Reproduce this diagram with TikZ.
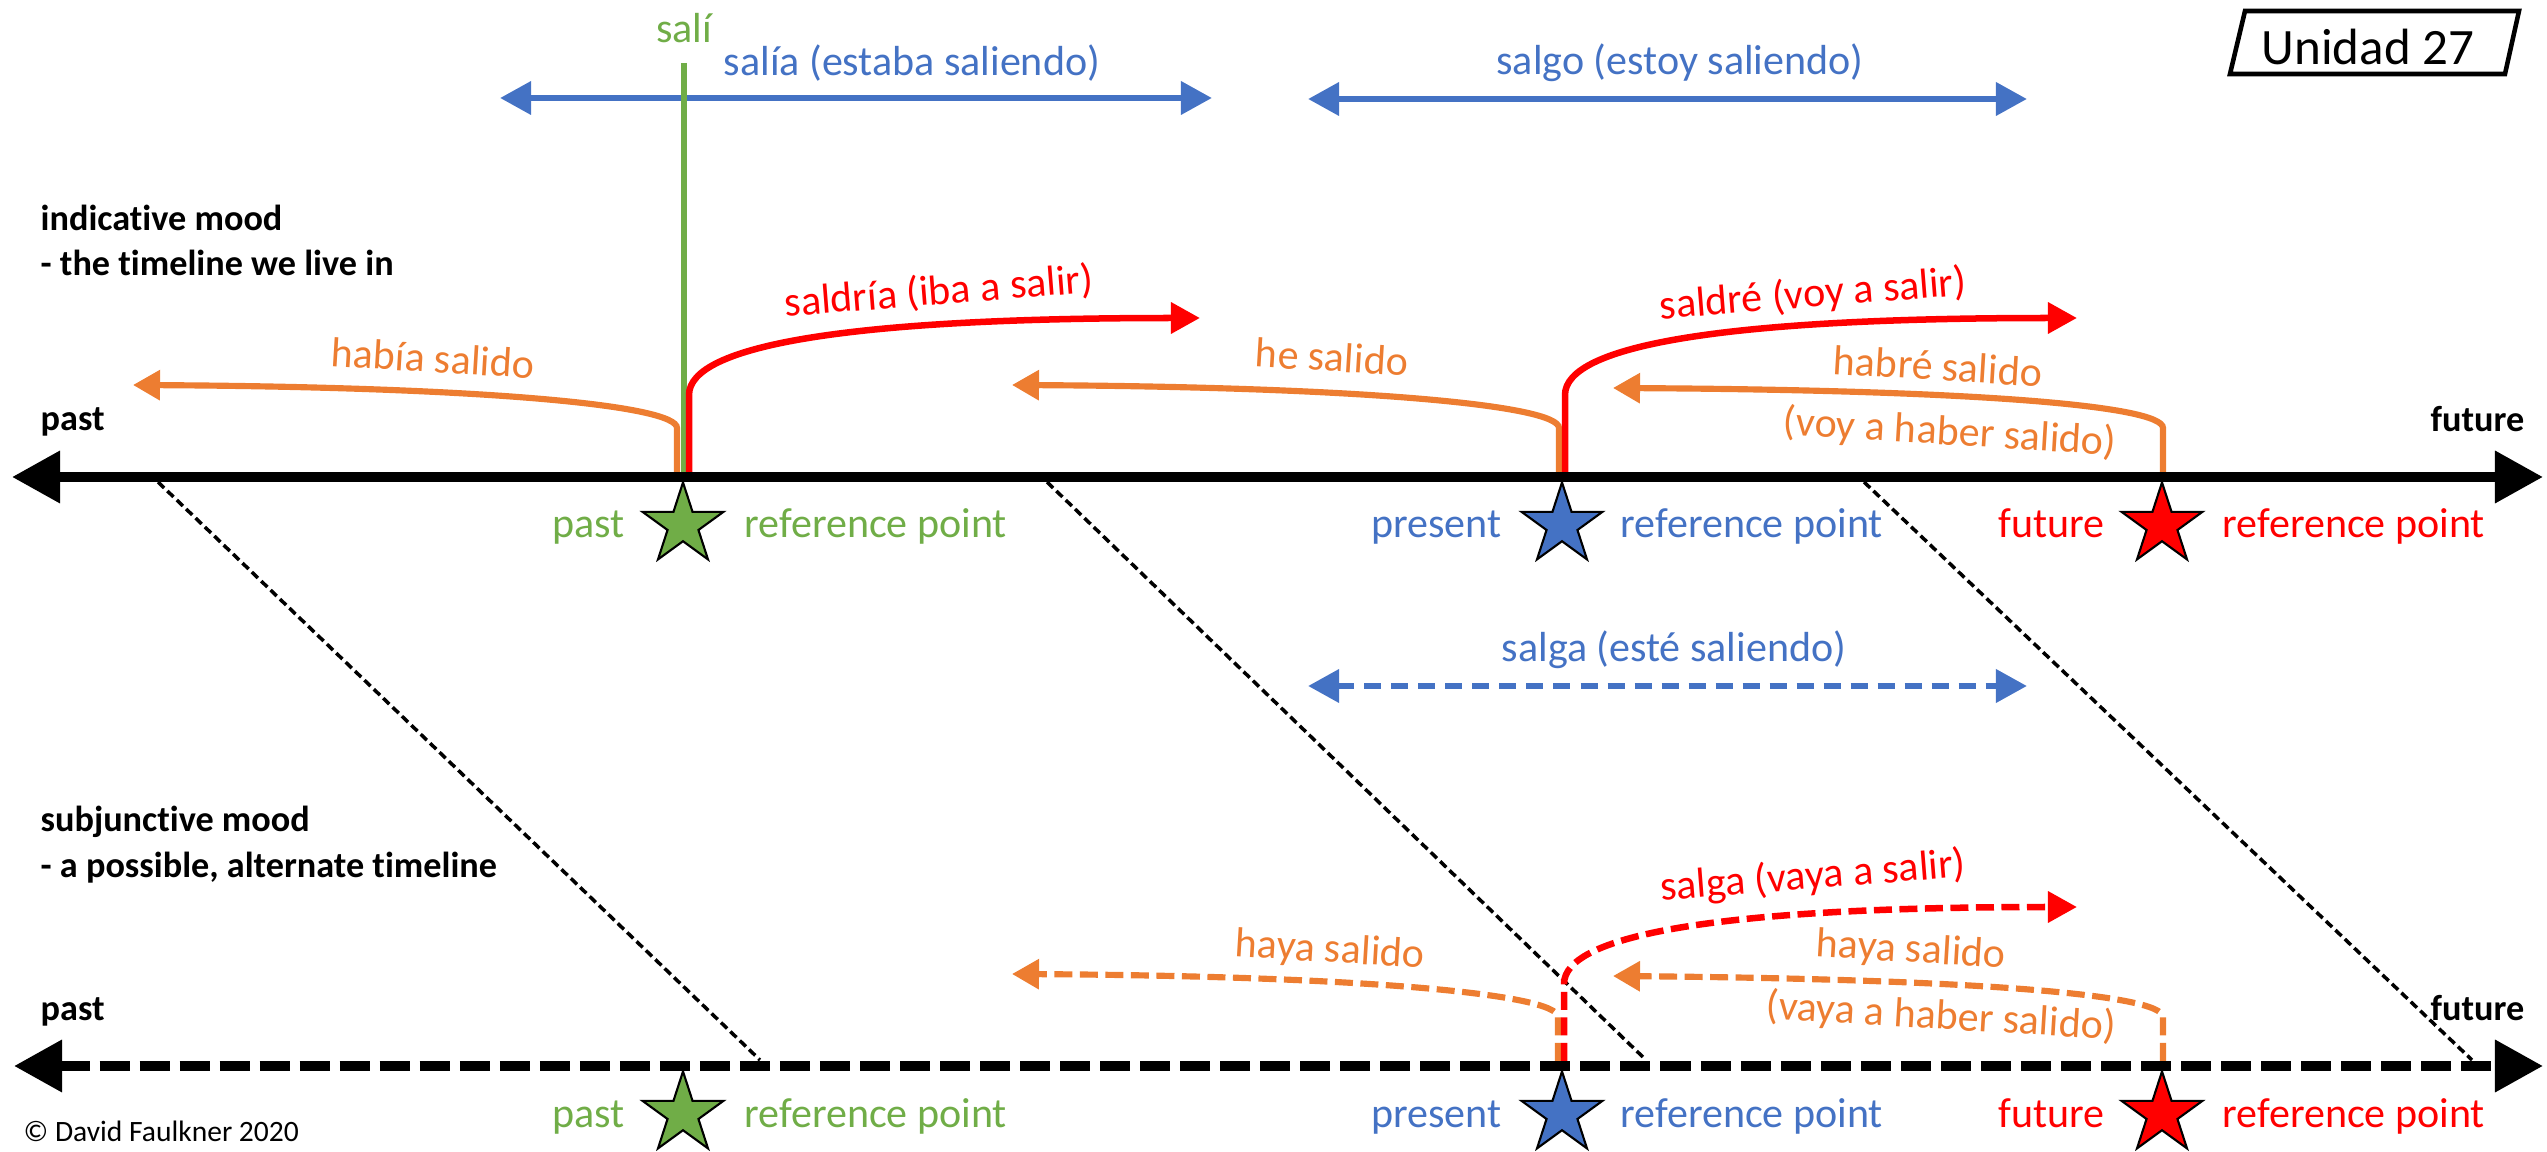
\documentclass[tikz,border=0pt]{standalone}
\usepackage{fontspec}
\setmainfont{Carlito}[Ligatures=NoCommon]
\usetikzlibrary{arrows.meta,shapes.geometric}
\definecolor{cblue}{HTML}{4472C4}
\definecolor{corange}{HTML}{ED7D31}
\definecolor{cgreen}{HTML}{70AD47}
\definecolor{cred}{HTML}{FF0000}
\begin{document}
\begin{tikzpicture}[x=0.01cm,y=-0.01cm,
  lbl/.style={inner sep=0pt, font=\fontsize{11.95}{14}\selectfont},
  blbl/.style={inner sep=0pt, font=\fontsize{10.3}{12.5}\selectfont\bfseries, anchor=base west},
  timeline/.style={line width=2.85pt, {Triangle[length=0.48cm,width=0.5cm]}-{Triangle[length=0.48cm,width=0.5cm]}},
  dashtl/.style={timeline, dash pattern=on 0.3cm off 0.1cm},
  diag/.style={line width=1pt, dash pattern=on 0.085cm off 0.045cm},
  spanarrow/.style={cblue, line width=1.9pt, {Triangle[length=0.31cm,width=0.32cm]}-{Triangle[length=0.31cm,width=0.32cm]}},
  pastarrow/.style={corange, line width=1.75pt, -{Triangle[length=0.27cm,width=0.29cm]}},
  futarrow/.style={cred, line width=1.85pt, -{Triangle[length=0.29cm,width=0.3cm]}},
  subj/.style={dash pattern=on 0.18cm off 0.075cm},
  refstar/.style={star, star points=5, star point ratio=2.618, minimum size=0.85cm, inner sep=0pt, draw=black, line width=0.6pt},
]
\useasboundingbox (0,0) rectangle (2547,1152);

% ---------- coordinates of the timelines ----------
\coordinate (tL) at (12,477);   \coordinate (tR) at (2543,477);
\coordinate (bL) at (14,1066);  \coordinate (bR) at (2543,1066);

% ---------- diagonal links ----------
\coordinate (d1a) at (158,482);  \coordinate (d1b) at (760,1060);
\coordinate (d2a) at (1047,482); \coordinate (d2b) at (1646,1060);
\coordinate (d3a) at (1864,482); \coordinate (d3b) at (2472,1060);
\draw[diag] (d1a) -- (d1b);
\draw[diag] (d2a) -- (d2b);
\draw[diag] (d3a) -- (d3b);

% ---------- spans ----------
\coordinate (s1a) at (500,98);   \coordinate (s1b) at (1212,98);
\coordinate (s2a) at (1308,99);  \coordinate (s2b) at (2027,99);
\coordinate (s3a) at (1308,686); \coordinate (s3b) at (2027,686);
\draw[spanarrow] (s1a) -- (s1b);
\draw[spanarrow] (s2a) -- (s2b);
\draw[spanarrow, dash pattern=on 0.17cm off 0.1cm] (s3a) -- (s3b);

% ---------- sali ----------
\coordinate (g1) at (684,63); \coordinate (g2) at (684,477);
\draw[cgreen, line width=1.5pt] (g1) -- (g2);

% ---------- indicative curves ----------
\draw[pastarrow] (677,477) -- (677,428) .. controls (677,405) and (480,387) .. (133,385);
\draw[futarrow] (689,477) -- (689,395) .. controls (689,345) and (850,318) .. (1200,318);
\draw[pastarrow] (1559,477) -- (1559,428) .. controls (1559,405) and (1360,387) .. (1012,385);
\draw[futarrow] (1565,477) -- (1565,395) .. controls (1565,345) and (1726,318) .. (2077,318);
\draw[pastarrow] (2163,477) -- (2163,428) .. controls (2163,405) and (1964,390) .. (1613,388);

% ---------- subjunctive curves ----------
\draw[pastarrow, subj] (1558,1061) -- (1558,1017) .. controls (1558,994) and (1360,976) .. (1012,974);
\draw[futarrow, subj] (1564,1061) -- (1564,984) .. controls (1564,934) and (1725,907) .. (2077,907);
\draw[pastarrow, subj] (2163,1061) -- (2163,1017) .. controls (2163,994) and (1964,979) .. (1613,976);

% ---------- timelines ----------
\draw[timeline] (tL) -- (tR);
\draw[dashtl] (bL) -- (bR);

% ---------- stars ----------
\node[refstar, fill=cgreen] (st1) at (683,525) {};
\node[refstar, fill=cblue]  (st2) at (1562,525) {};
\node[refstar, fill=cred]   (st3) at (2162,525) {};
\node[refstar, fill=cgreen] (sb1) at (683,1114) {};
\node[refstar, fill=cblue]  (sb2) at (1562,1114) {};
\node[refstar, fill=cred]   (sb3) at (2162,1114) {};

% ---------- star labels ----------
\node[lbl, text=cgreen, anchor=base east] (lt1) at (625,538) {past};
\node[lbl, text=cgreen, anchor=base west] (rt1) at (744,538) {reference point};
\node[lbl, text=cblue, anchor=base east] (lt2) at (1502,538) {present};
\node[lbl, text=cblue, anchor=base west] (rt2) at (1620,538) {reference point};
\node[lbl, text=cred, anchor=base east] (lt3) at (2105,538) {future};
\node[lbl, text=cred, anchor=base west] (rt3) at (2222,538) {reference point};
\node[lbl, text=cgreen, anchor=base east] (lb1) at (625,1127) {past};
\node[lbl, text=cgreen, anchor=base west] (rb1) at (744,1127) {reference point};
\node[lbl, text=cblue, anchor=base east] (lb2) at (1502,1127) {present};
\node[lbl, text=cblue, anchor=base west] (rb2) at (1620,1127) {reference point};
\node[lbl, text=cred, anchor=base east] (lb3) at (2105,1127) {future};
\node[lbl, text=cred, anchor=base west] (rb3) at (2222,1127) {reference point};

% ---------- tense labels ----------
\node[lbl, text=cgreen] (tsali) at (684,28) {salí};
\node[lbl, text=cblue] (tsalia) at (912,63) {salía (estaba saliendo)};
\node[lbl, text=cblue] (tsalgo) at (1680,63) {salgo (estoy saliendo)};
\node[lbl, text=cblue] (tsalga) at (1674,650) {salga (esté saliendo)};
\node[lbl, text=corange, rotate=-3.5] (thabia) at (433,358) {había salido};
\node[lbl, text=cred, rotate=4.5] (tsaldria) at (939,292) {saldría (iba a salir)};
\node[lbl, text=corange, rotate=-3.5] (the) at (1332,357) {he salido};
\node[lbl, text=cred, rotate=4.5] (tsaldre) at (1813,295) {saldré (voy a salir)};
\node[lbl, text=corange, rotate=-3.5] (thabre) at (1938,366) {habré salido};
\node[lbl, text=corange, rotate=-3.5] (tvoy) at (1950,433) {(voy a haber salido)};
\node[lbl, text=corange, rotate=-3.5] (thaya1) at (1330,951) {haya salido};
\node[lbl, text=cred, rotate=4.5] (tsalgav) at (1813,877) {salga (vaya a salir)};
\node[lbl, text=corange, rotate=-3.5] (thaya2) at (1911,951) {haya salido};
\node[lbl, text=corange, rotate=-3.5] (tvaya) at (1941,1017) {(vaya a haber salido)};

% ---------- black labels ----------
\node[blbl] (ind1) at (40,231) {indicative mood};
\node[blbl] (ind2) at (40,276) {- the timeline we live in};
\node[blbl] (sub1) at (40,832) {subjunctive mood};
\node[blbl] (sub2) at (40,877) {- a possible, alternate timeline};
\node[blbl] (pastT) at (40,431) {past};
\node[blbl, anchor=base east] (futT) at (2525,432) {future};
\node[blbl] (pastB) at (40,1021) {past};
\node[blbl, anchor=base east] (futB) at (2525,1021) {future};
\node[inner sep=0pt, anchor=base west, font=\fontsize{8.4}{10}\selectfont] (copy) at (23,1141) {© David Faulkner 2020};

% ---------- unit box ----------
\draw[line width=1.3pt] (2245,11) -- (2519,11) -- (2505,74) -- (2230,74) -- cycle;
\node[inner sep=0pt, anchor=base, font=\fontsize{14.5}{17}\selectfont] (unit) at (2368,65) {Unidad 27};
\end{tikzpicture}
\end{document}
